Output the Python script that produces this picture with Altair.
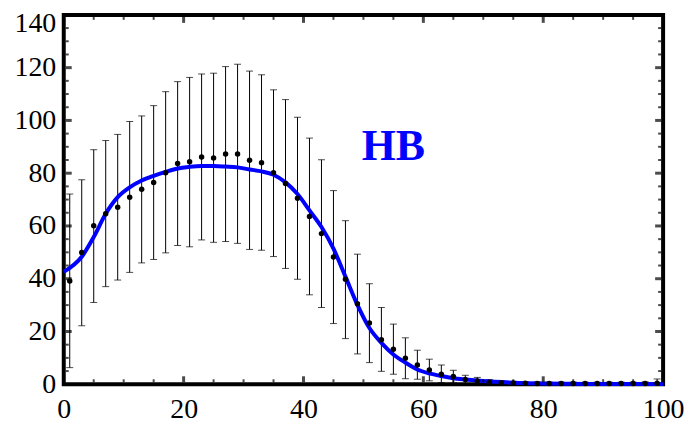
import altair as alt
import pandas as pd

# ---------------- data ----------------
pt_x = [1, 3, 5, 7, 9, 11, 13, 15, 17, 19, 21, 23, 25, 27, 29, 31, 33, 35, 37, 39,
        41, 43, 45, 47, 49, 51, 53, 55, 57, 59, 61, 63, 65, 67, 69, 71, 73, 75, 77, 79,
        81, 83, 85, 87, 89, 91, 93, 95, 97, 99]
pt_y = [39.1, 49.9, 60.1, 64.6, 67.1, 70.9, 73.9, 76.5, 80.2, 83.7, 84.3, 86.1, 85.8, 87.3, 87.3,
        84.9, 84.0, 80.2, 76.1, 70.5, 63.6, 57.1, 48.2, 39.8, 30.5, 23.2, 16.9, 13.3, 9.9, 7.3,
        5.4, 3.8, 2.9, 1.8, 1.2, 0.8, 0.6, 0.5, 0.4, 0.3, 0.3, 0.3, 0.3, 0.3, 0.3, 0.3, 0.3,
        0.3, 0.3, 0.4]
pt_lo = [6.3, 22.2, 31.0, 37.0, 39.5, 42.4, 46.0, 47.3, 49.8, 52.6, 52.1, 54.7, 53.8, 54.1, 53.4,
         51.1, 50.8, 48.4, 43.9, 39.8, 33.9, 29.1, 23.0, 17.3, 11.5, 8.2, 4.9, 3.8, 2.1, 1.9,
         1.3, 0.6, 0.5, 0.3, 0.2, 0.1, 0.1, 0.0, 0.0, 0.0, 0.0, 0.0, 0.0, 0.0, 0.0, 0.0, 0.0,
         0.0, 0.0, 0.0]
pt_hi = [72.1, 77.5, 88.9, 92.4, 94.7, 99.6, 101.7, 105.6, 110.9, 114.7, 116.3, 117.6, 117.9, 120.4,
         121.3, 118.7, 117.3, 111.6, 107.9, 101.2, 93.3, 85.1, 73.4, 62.0, 49.3, 38.1, 29.1, 22.8,
         17.6, 12.9, 9.5, 7.3, 5.3, 3.4, 2.6, 1.8, 1.4, 1.1, 1.0, 0.9, 0.8, 0.8, 0.8, 0.8, 0.8,
         0.8, 0.8, 0.8, 0.9, 2.0]

curve_x = [0, 3, 5, 7, 9, 11, 13, 15, 17, 19, 21, 23, 25, 27, 29, 31, 33, 35, 37, 39, 41, 43,
           45, 47, 49, 51, 53, 55, 57, 59, 61, 63, 65, 67, 70, 75, 80, 90, 100]
curve_y = [42.6, 48.3, 55.8, 64.6, 70.9, 74.6, 77.2, 79.0, 80.5, 81.8, 82.4, 82.7, 82.7, 82.5,
           82.2, 81.4, 80.7, 79.4, 76.5, 72.1, 65.9, 59.6, 51.4, 40.8, 30.1, 21.3, 15.7, 11.3,
           8.2, 5.6, 4.1, 3.1, 2.3, 1.8, 1.2, 0.6, 0.3, 0.1, 0.05]

x_labels = [0, 20, 40, 60, 80, 100]
y_labels = [0, 20, 40, 60, 80, 100, 120, 140]
x_major = [20, 40, 60, 80]
x_minor = [5, 10, 15, 25, 30, 35, 45, 50, 55, 65, 70, 75, 85, 90, 95]
y_major = [20, 40, 60, 80, 100, 120]
y_minor = [5, 10, 15, 25, 30, 35, 45, 50, 55, 65, 70, 75, 85, 90, 95, 105, 110, 115, 125, 130, 135]

label_text = ["HB"]
label_x = [55]
label_y = [90]

# ---------------- layout ----------------
W, H = 602, 371
FONT = "Liberation Serif"

xscale = alt.Scale(domain=[0, 100], nice=False, zero=False)
yscale = alt.Scale(domain=[0, 140], nice=False, zero=False)
xaxis = alt.Axis(values=x_labels, domain=False, ticks=False, grid=False,
                 labelFont=FONT, labelFontSize=28, labelColor="black",
                 labelPadding=11, labelOverlap=False, labelFlush=False)
yaxis = alt.Axis(values=y_labels, domain=False, ticks=False, grid=False,
                 labelFont=FONT, labelFontSize=28, labelColor="black",
                 labelPadding=8, labelOverlap=False, labelFlush=False,
                 labelOffset={"condition": {"test": "datum.value == 140", "value": 9}, "value": 0})


def X(f):
    return alt.X(f, type="quantitative", scale=xscale, axis=xaxis, title=None)


def Y(f):
    return alt.Y(f, type="quantitative", scale=yscale, axis=yaxis, title=None)


pts = pd.DataFrame({"x": pt_x, "y": pt_y, "lo": pt_lo, "hi": pt_hi})
curve = pd.DataFrame({"x": curve_x, "y": curve_y})
lab = pd.DataFrame({"x": label_x, "y": label_y, "t": label_text})

bars = alt.Chart(pts).mark_rule(color="black", strokeWidth=1).encode(
    x=X("x"), y=Y("lo"), y2="hi")
cap_hi = alt.Chart(pts).mark_tick(color="black", orient="horizontal", size=7, thickness=1).encode(
    x=X("x"), y=Y("hi"))
cap_lo = alt.Chart(pts).mark_tick(color="black", orient="horizontal", size=7, thickness=1).encode(
    x=X("x"), y=Y("lo"))
line = alt.Chart(curve).mark_line(color="#0000FF", strokeWidth=4, interpolate="monotone").encode(
    x=X("x"), y=Y("y"))
dots = alt.Chart(pts).mark_circle(color="black", size=30, opacity=1).encode(
    x=X("x"), y=Y("y"))
text = alt.Chart(lab).mark_text(font=FONT, fontWeight="bold", fontSize=44, color="#0000FF").encode(
    x=X("x"), y=Y("y"), text="t:N")


# inward frame ticks
def xticks(vals, L, t):
    df = pd.DataFrame({"v": vals})
    b = alt.Chart(df).mark_tick(color="black", orient="vertical", size=L, thickness=t).encode(
        x=X("v"), y=alt.value(H - 2 - L / 2))
    tp = alt.Chart(df).mark_tick(color="black", orient="vertical", size=L, thickness=t).encode(
        x=X("v"), y=alt.value(2 + L / 2))
    return [b, tp]


def yticks(vals, L, t):
    df = pd.DataFrame({"v": vals})
    l = alt.Chart(df).mark_tick(color="black", orient="horizontal", size=L, thickness=t).encode(
        y=Y("v"), x=alt.value(2 + L / 2))
    r = alt.Chart(df).mark_tick(color="black", orient="horizontal", size=L, thickness=t).encode(
        y=Y("v"), x=alt.value(W - 2 - L / 2))
    return [l, r]


layers = ([bars, cap_hi, cap_lo, line, dots, text]
          + xticks(x_major, 6, 3) + xticks(x_minor, 3, 2)
          + yticks(y_major, 6, 3) + yticks(y_minor, 3, 2))

chart = alt.layer(*layers).properties(
    width=W, height=H, autosize="none",
    padding={"left": 56, "top": 6, "right": 22, "bottom": 38},
    background="white",
).configure_view(stroke="black", strokeWidth=4).configure_axis(
    labelFont=FONT, labelFontSize=28, labelColor="black"
)

chart.save("out.html", embed_options={"renderer": "svg", "actions": False})
